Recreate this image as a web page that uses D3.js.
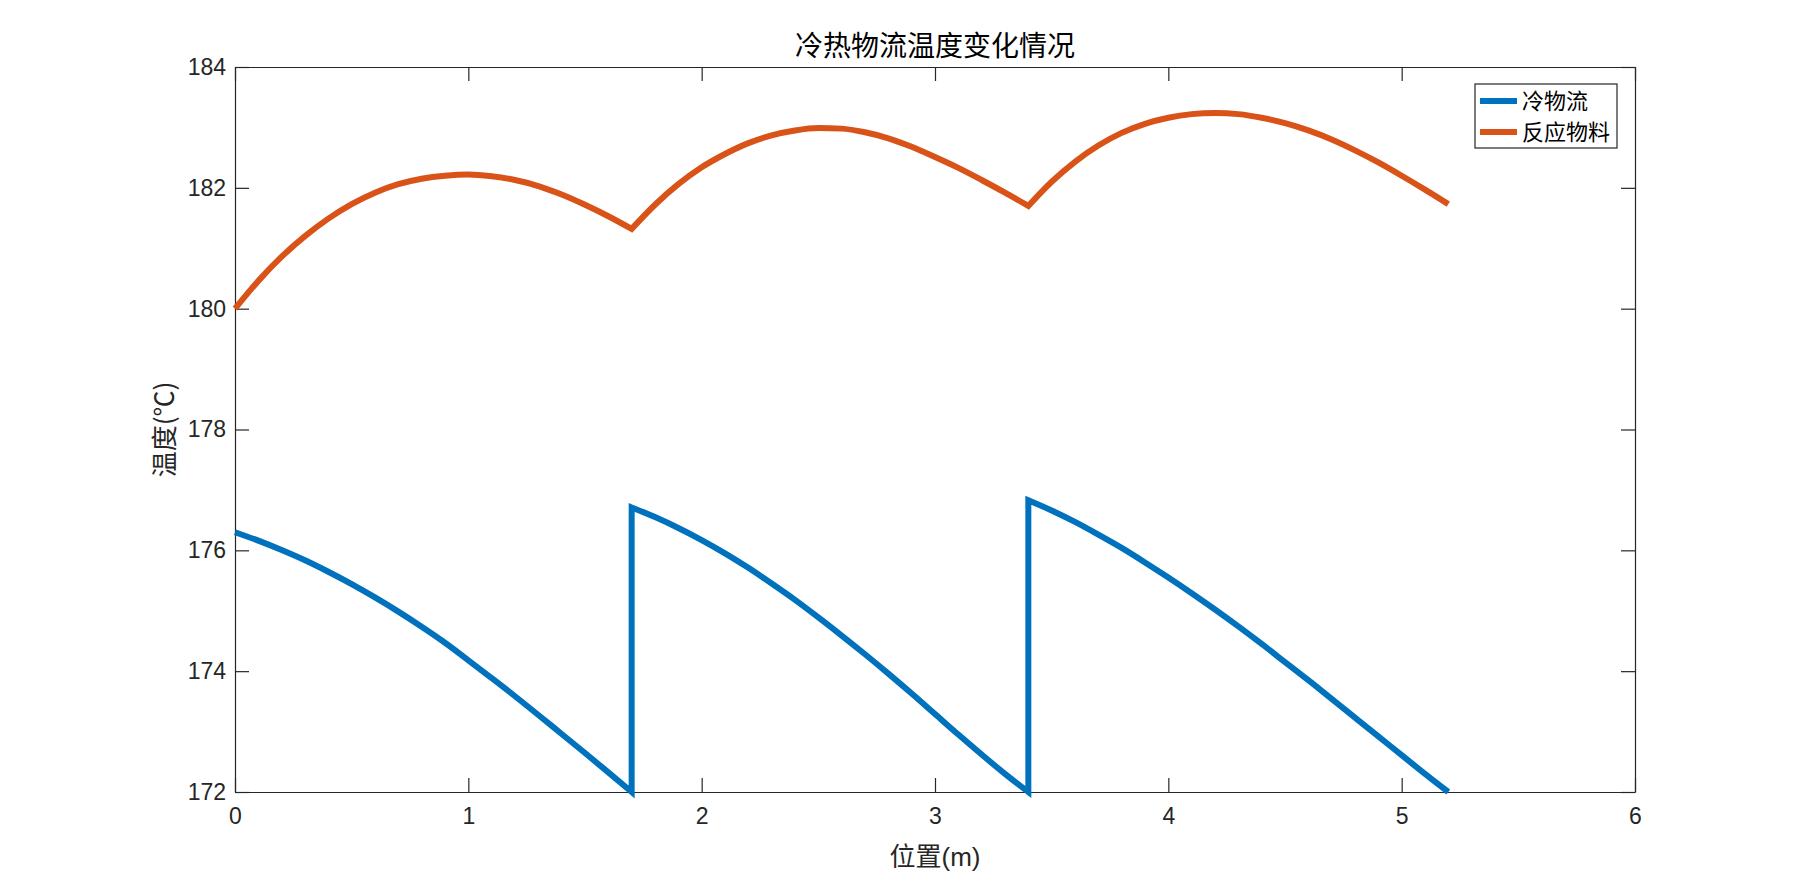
<!DOCTYPE html>
<html>
<head>
<meta charset="utf-8">
<script src="https://cdn.jsdelivr.net/npm/d3@7"></script>
<style>
  html, body { margin: 0; padding: 0; background: #fff; }
  svg { display: block; }
</style>
</head>
<body>
<svg id="chart" width="1807" height="890"></svg>
<script>
// ---- data ----
const titleText = "冷热物流温度变化情况";
const xLabelText = "位置(m)";
const yLabelText = "温度(℃)";
const seriesNames = ["冷物流", "反应物料"];
const xTicks = [0, 1, 2, 3, 4, 5, 6];
const yTicks = [172, 174, 176, 178, 180, 182, 184];

// cold stream (冷物流): position (m) and temperature (℃); repeated x = vertical jump
const coldX = [0, 0.1, 0.2, 0.3, 0.4, 0.5, 0.6, 0.7, 0.8, 0.9, 1.0, 1.1, 1.2, 1.3, 1.4, 1.5, 1.6, 1.7,
  1.7, 1.8, 1.9, 2.0, 2.1, 2.2, 2.3, 2.4, 2.5, 2.6, 2.7, 2.8, 2.9, 3.0, 3.1, 3.2, 3.3, 3.4,
  3.4, 3.5, 3.6, 3.7, 3.8, 3.9, 4.0, 4.1, 4.2, 4.3, 4.4, 4.5, 4.6, 4.7, 4.8, 4.9, 5.0, 5.1, 5.2];
const coldT = [176.30, 176.16, 176.005, 175.835, 175.645, 175.44, 175.22, 174.985, 174.735, 174.47, 174.18, 173.885, 173.585, 173.275, 172.96, 172.645, 172.325, 172.00,
  176.71, 176.55, 176.37, 176.17, 175.95, 175.71, 175.45, 175.18, 174.89, 174.59, 174.28, 173.96, 173.63, 173.29, 172.95, 172.62, 172.30, 172.00,
  176.83, 176.66, 176.47, 176.26, 176.04, 175.80, 175.55, 175.29, 175.02, 174.74, 174.45, 174.15, 173.85, 173.54, 173.23, 172.92, 172.61, 172.30, 172.00];

// reacting material (反应物料); kinks at the segment joins
const hotX = [0, 0.1, 0.2, 0.3, 0.4, 0.5, 0.6, 0.7, 0.8, 0.9, 1.0, 1.1, 1.2, 1.3, 1.4, 1.5, 1.6, 1.7,
  1.8, 1.9, 2.0, 2.1, 2.2, 2.3, 2.4, 2.5, 2.6, 2.7, 2.8, 2.9, 3.0, 3.1, 3.2, 3.3, 3.4,
  3.5, 3.6, 3.7, 3.8, 3.9, 4.0, 4.1, 4.2, 4.3, 4.4, 4.5, 4.6, 4.7, 4.8, 4.9, 5.0, 5.1, 5.2];
const hotT = [180.00, 180.46, 180.86, 181.20, 181.49, 181.73, 181.92, 182.06, 182.15, 182.20, 182.22, 182.19, 182.13, 182.03, 181.89, 181.72, 181.53, 181.32,
  181.72, 182.06, 182.34, 182.56, 182.74, 182.87, 182.95, 182.99, 182.98, 182.92, 182.82, 182.68, 182.51, 182.33, 182.13, 181.92, 181.70,
  182.10, 182.43, 182.70, 182.91, 183.06, 183.16, 183.22, 183.24, 183.22, 183.16, 183.07, 182.95, 182.80, 182.62, 182.42, 182.20, 181.97, 181.73];
const hotBreaks = [1.7, 3.4];

const colors = ["#0072BD", "#D95319"];

(function () {
  const mL = 235, mR = 1635, mT = 67, mB = 792;
  const axisColor = "#262626";
  const tickLen = 14;
  const latin = "'Liberation Sans', Arial, Helvetica, sans-serif";
  const cjk = "'Liberation Sans', 'Noto Sans CJK SC', sans-serif";
  const cjkFirst = "'Noto Sans CJK SC', sans-serif";

  const svg = d3.select("#chart");
  const x = d3.scaleLinear().domain([0, 6]).range([mL, mR]);
  const y = d3.scaleLinear().domain([172, 184]).range([mB, mT]);

  const g = svg.append("g");
  const xAxis = d3.axisBottom(x).tickValues(xTicks).tickSizeInner(-tickLen).tickSizeOuter(0).tickPadding(16).tickFormat(d3.format("d"));
  const gx = g.append("g").attr("transform", `translate(0,${mB})`).call(xAxis);
  const xTopAxis = d3.axisTop(x).tickValues(xTicks).tickSizeInner(-tickLen).tickSizeOuter(0).tickFormat("");
  const gxt = g.append("g").attr("transform", `translate(0,${mT})`).call(xTopAxis);
  const yAxis = d3.axisLeft(y).tickValues(yTicks).tickSizeInner(-tickLen).tickSizeOuter(0).tickPadding(9).tickFormat(d3.format("d"));
  const gy = g.append("g").attr("transform", `translate(${mL},0)`).call(yAxis);
  const yRightAxis = d3.axisRight(y).tickValues(yTicks).tickSizeInner(-tickLen).tickSizeOuter(0).tickFormat("");
  const gyr = g.append("g").attr("transform", `translate(${mR},0)`).call(yRightAxis);

  [gx, gxt, gy, gyr].forEach(a => {
    a.select(".domain").attr("stroke", axisColor).attr("stroke-width", 1.2);
    a.selectAll(".tick line").attr("stroke", axisColor).attr("stroke-width", 1.2);
    a.selectAll(".tick text").attr("fill", axisColor).style("font-family", latin).style("font-size", "23px");
  });

  // split into smooth pieces
  const smooth = d3.line().x(d => x(d[0])).y(d => y(d[1])).curve(d3.curveMonotoneX);
  function joinedPath(segments) {
    return segments.map((s, i) => {
      const p = smooth(s);
      return i === 0 ? p : "L" + p.slice(1);
    }).join("");
  }
  // cold: split where x repeats
  const coldSegs = [];
  let cur = [];
  coldX.forEach((v, i) => {
    if (i > 0 && v === coldX[i - 1]) { coldSegs.push(cur); cur = []; }
    cur.push([v, coldT[i]]);
  });
  coldSegs.push(cur);
  // hot: split at break positions (shared point)
  const hotSegs = [];
  cur = [];
  hotX.forEach((v, i) => {
    cur.push([v, hotT[i]]);
    if (hotBreaks.includes(v)) { hotSegs.push(cur); cur = [[v, hotT[i]]]; }
  });
  hotSegs.push(cur);

  const plot = svg.append("g");
  plot.append("path").attr("d", joinedPath(coldSegs))
    .attr("fill", "none").attr("stroke", colors[0]).attr("stroke-width", 6)
    .attr("stroke-linejoin", "miter").attr("stroke-miterlimit", 10);
  plot.append("path").attr("d", joinedPath(hotSegs))
    .attr("fill", "none").attr("stroke", colors[1]).attr("stroke-width", 6)
    .attr("stroke-linejoin", "miter").attr("stroke-miterlimit", 10);

  svg.append("text").attr("x", (mL + mR) / 2).attr("y", 56)
    .attr("text-anchor", "middle").style("font-family", cjk).style("font-size", "28px")
    .attr("fill", "#000").text(titleText);

  svg.append("text").attr("x", (mL + mR) / 2).attr("y", 866)
    .attr("text-anchor", "middle").style("font-family", cjk).style("font-size", "26px")
    .attr("fill", axisColor).text(xLabelText);

  svg.append("text")
    .attr("transform", `translate(162,${(mT + mB) / 2}) rotate(-90)`)
    .attr("text-anchor", "middle").attr("dominant-baseline", "central")
    .style("font-family", cjkFirst).style("font-size", "26px")
    .attr("fill", axisColor).text(yLabelText);

  const lg = svg.append("g");
  lg.append("rect").attr("x", 1475).attr("y", 84).attr("width", 142).attr("height", 64)
    .attr("fill", "#fff").attr("stroke", axisColor).attr("stroke-width", 1.2);
  seriesNames.forEach((name, i) => {
    const yy = 101 + i * 31;
    lg.append("line").attr("x1", 1480).attr("x2", 1517).attr("y1", yy).attr("y2", yy)
      .attr("stroke", colors[i]).attr("stroke-width", 6);
    lg.append("text").attr("x", 1522).attr("y", yy).attr("dominant-baseline", "central")
      .style("font-family", cjk).style("font-size", "22px").attr("fill", "#000").text(name);
  });
})();
</script>
</body>
</html>
